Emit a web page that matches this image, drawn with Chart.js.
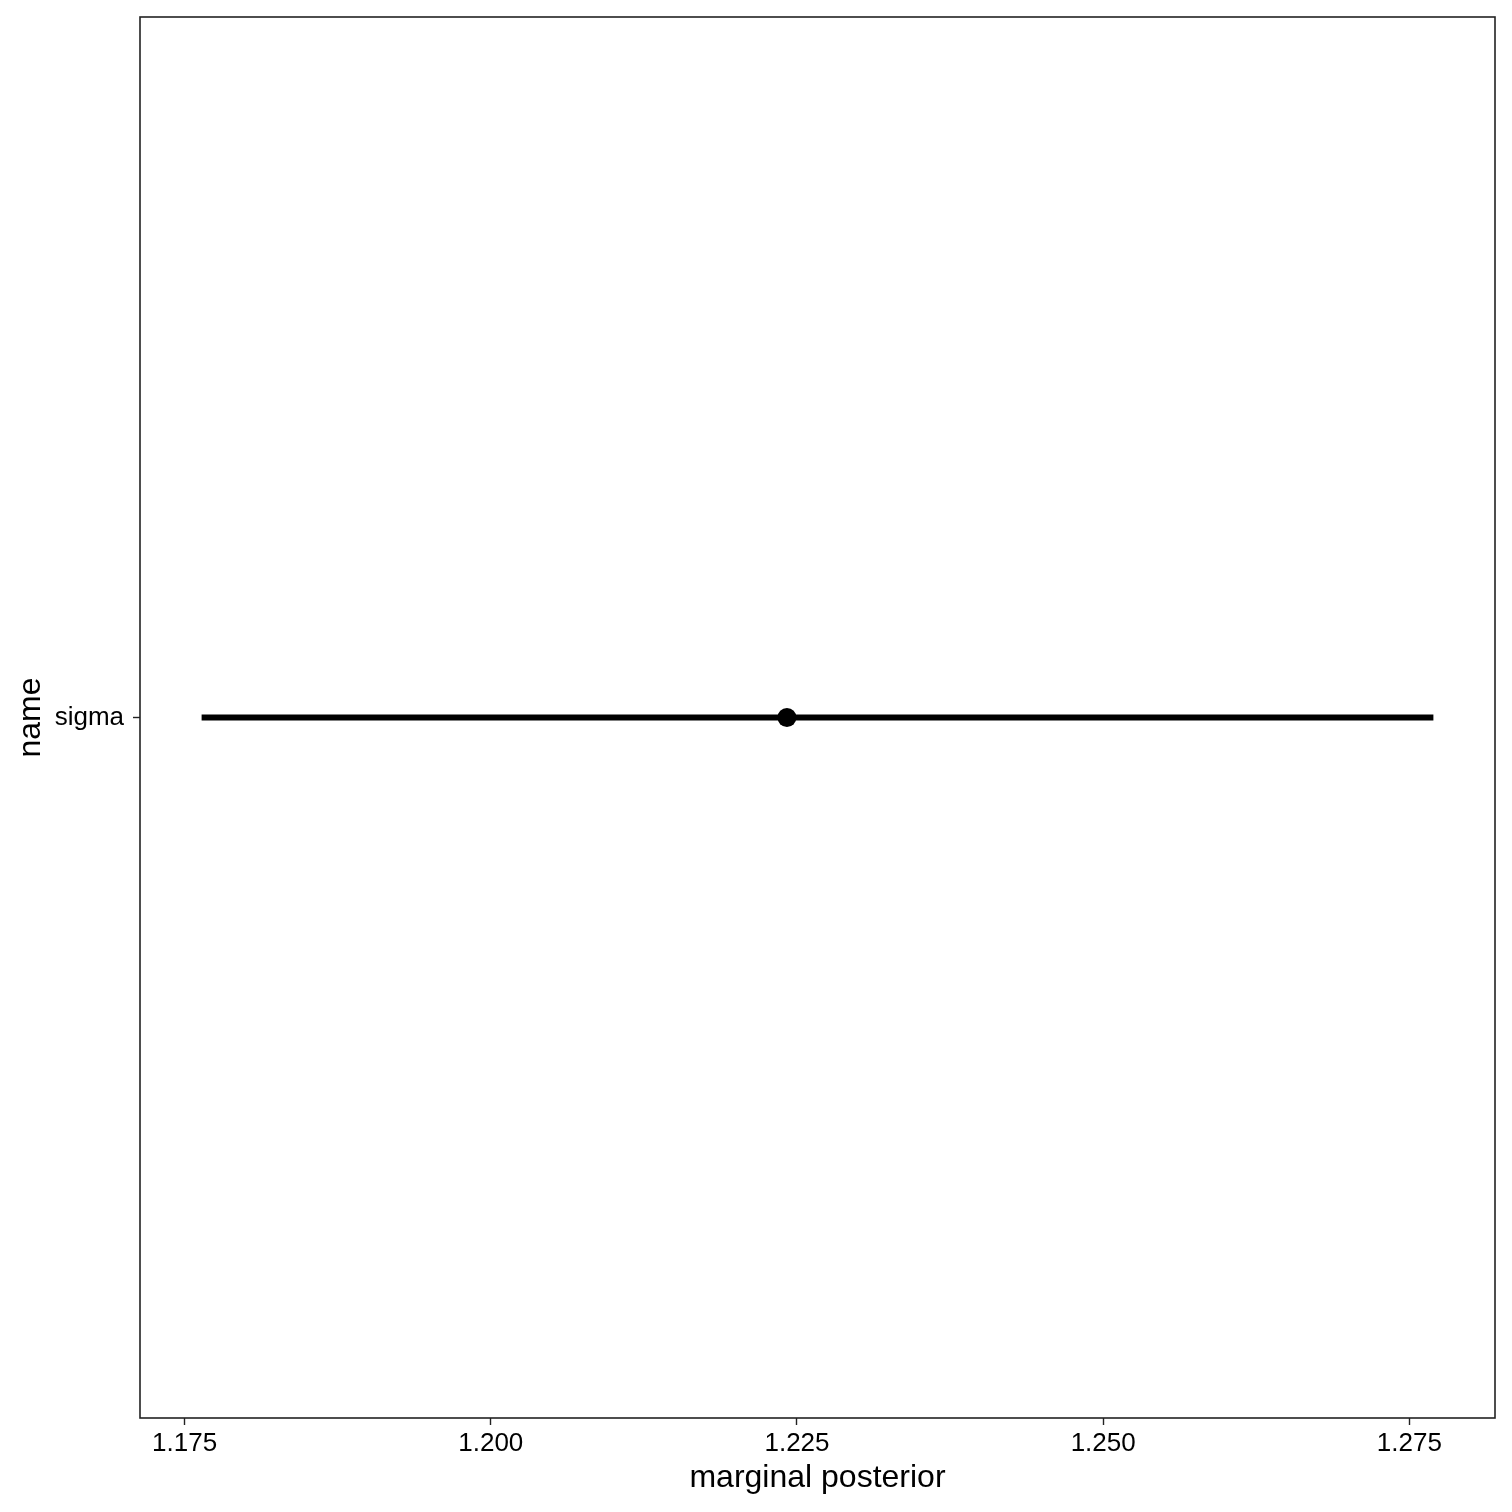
<!DOCTYPE html>
<html>
<head>
<meta charset="utf-8">
<script src="https://cdn.jsdelivr.net/npm/chart.js@4/dist/chart.umd.min.js"></script>
<style>
  html, body { margin: 0; padding: 0; background: #fff; }
  canvas { display: block; }
</style>
</head>
<body>
<canvas id="c" width="1512" height="1512"></canvas>
<script>
// ---- data ----
const categories = ['sigma'];
const intervalLow = [1.17639];
const intervalHigh = [1.27696];
const pointEstimate = [1.22418];
const xTickValues = [1.175, 1.200, 1.225, 1.250, 1.275];
const xRange = [1.17136, 1.28199];
const xTitle = 'marginal posterior';
const yTitle = 'name';

const FONT = "'Liberation Sans', Arial, sans-serif";
const INK = '#222222';

const datasets = [];
categories.forEach((cat, i) => {
  datasets.push({
    type: 'scatter',
    showLine: true,
    data: [{x: intervalLow[i], y: cat}, {x: intervalHigh[i], y: cat}],
    borderColor: '#000',
    backgroundColor: '#000',
    borderWidth: 6,
    borderCapStyle: 'butt',
    pointRadius: 0,
    pointHoverRadius: 0
  });
  datasets.push({
    type: 'scatter',
    data: [{x: pointEstimate[i], y: cat}],
    backgroundColor: '#000',
    borderColor: '#000',
    borderWidth: 0,
    pointRadius: 9.5,
    pointHoverRadius: 9.5
  });
});

const framePlugin = {
  id: 'frame',
  afterDraw(chart) {
    const {ctx, chartArea: a} = chart;
    ctx.save();
    ctx.strokeStyle = INK;
    ctx.lineWidth = 1.6;
    ctx.strokeRect(a.left, a.top, a.right - a.left, a.bottom - a.top);
    ctx.restore();
  }
};

new Chart(document.getElementById('c'), {
  type: 'scatter',
  data: { datasets },
  plugins: [framePlugin],
  options: {
    responsive: false,
    animation: false,
    devicePixelRatio: 1,
    layout: { padding: { top: 17, right: 17, left: 0, bottom: 0 } },
    plugins: { legend: { display: false }, tooltip: { enabled: false } },
    scales: {
      x: {
        type: 'linear',
        position: 'bottom',
        min: xRange[0],
        max: xRange[1],
        afterBuildTicks(scale) { scale.ticks = xTickValues.map(v => ({ value: v })); },
        afterFit(scale) { scale.height = 94; scale.paddingLeft = 0; scale.paddingRight = 0; },
        border: { display: false },
        grid: { drawOnChartArea: false, drawTicks: true, tickLength: 7, tickColor: INK, tickWidth: 1.4 },
        ticks: {
          padding: 3,
          color: '#000',
          font: { family: FONT, size: 26 },
          maxRotation: 0,
          autoSkip: false,
          callback: (v) => Number(v).toFixed(3)
        },
        title: {
          display: true,
          text: xTitle,
          color: '#000',
          font: { family: FONT, size: 32 },
          padding: { top: 0, bottom: 15 }
        }
      },
      y: {
        type: 'category',
        labels: categories,
        offset: true,
        position: 'left',
        afterFit(scale) { scale.width = 140; scale.paddingTop = 0; scale.paddingBottom = 0; },
        border: { display: false },
        grid: { drawOnChartArea: false, drawTicks: true, tickLength: 7, tickColor: INK, tickWidth: 1.4, offset: false },
        ticks: {
          padding: 9,
          color: '#000',
          font: { family: FONT, size: 26 }
        },
        title: {
          display: true,
          text: yTitle,
          color: '#000',
          font: { family: FONT, size: 32 },
          padding: { top: 11.5, bottom: 0 }
        }
      }
    }
  }
});
</script>
</body>
</html>
